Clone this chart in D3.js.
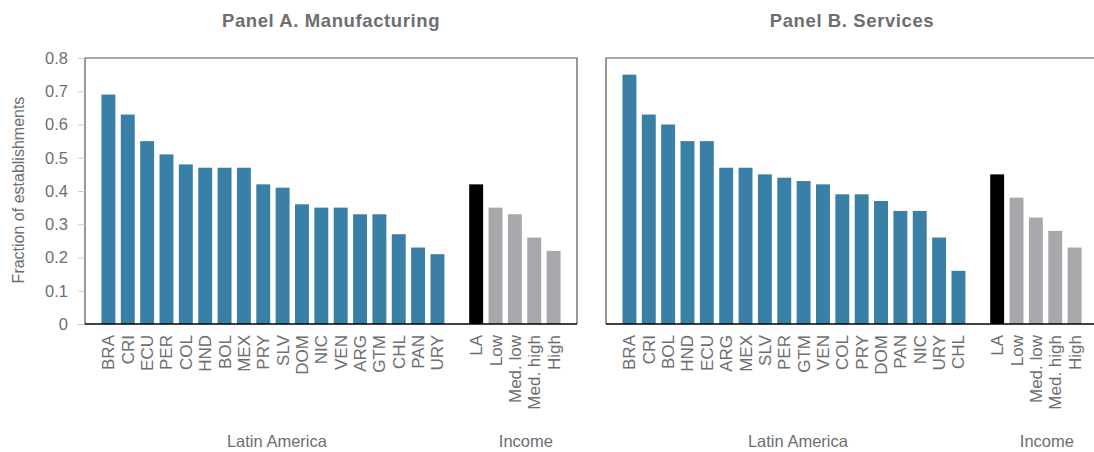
<!DOCTYPE html>
<html>
<head>
<meta charset="utf-8">
<script src="https://cdn.jsdelivr.net/npm/d3@7"></script>
<style>
  body { margin: 0; background: #fff; }
  text { font-family: "Liberation Sans", Arial, sans-serif; fill: #6d6e71; }
</style>
</head>
<body>
<svg id="chart" width="1094" height="452"></svg>
<script>
// data
const mfgCountries = ['BRA', 'CRI', 'ECU', 'PER', 'COL', 'HND', 'BOL', 'MEX', 'PRY', 'SLV', 'DOM', 'NIC', 'VEN', 'ARG', 'GTM', 'CHL', 'PAN', 'URY'];
const mfgValues = [0.69, 0.63, 0.55, 0.51, 0.48, 0.47, 0.47, 0.47, 0.42, 0.41, 0.36, 0.35, 0.35, 0.33, 0.33, 0.27, 0.23, 0.21];
const svcCountries = ['BRA', 'CRI', 'BOL', 'HND', 'ECU', 'ARG', 'MEX', 'SLV', 'PER', 'GTM', 'VEN', 'COL', 'PRY', 'DOM', 'PAN', 'NIC', 'URY', 'CHL'];
const svcValues = [0.75, 0.63, 0.60, 0.55, 0.55, 0.47, 0.47, 0.45, 0.44, 0.43, 0.42, 0.39, 0.39, 0.37, 0.34, 0.34, 0.26, 0.16];
const incomeGroups = ['LA', 'Low', 'Med. low', 'Med. high', 'High'];
const mfgIncome = [0.42, 0.35, 0.33, 0.26, 0.22];
const svcIncome = [0.45, 0.38, 0.32, 0.28, 0.23];
const yTicks = [0, 0.1, 0.2, 0.3, 0.4, 0.5, 0.6, 0.7, 0.8];

const BLUE = '#3a7fa5', GREY = '#a7a8ab', TXT = '#6d6e71';
const svg = d3.select('#chart');
const plotTop = 58, plotBottom = 324, panelW = 492;

const y = d3.scaleLinear().domain([0, 0.8]).range([plotBottom, plotTop]);

const drawPanel = (x0, title, countries, values, income, showY) => {
  const g = svg.append('g');
  const keys = countries.concat(['_gap'], incomeGroups);
  const x = d3.scaleBand().domain(keys).range([x0, x0 + panelW]).paddingInner(0.28).paddingOuter(0.85);
  let rows = countries.map((c, i) => ({ k: c, v: values[i], col: BLUE }));
  rows = rows.concat(incomeGroups.map((c, i) => ({ k: c, v: income[i], col: i === 0 ? '#000' : GREY })));

  g.selectAll('.bar').data(rows).enter().append('rect')
    .attr('x', d => x(d.k)).attr('width', x.bandwidth())
    .attr('y', d => y(d.v)).attr('height', d => y(0) - y(d.v))
    .attr('fill', d => d.col);

  // frame
  g.append('path').attr('d', `M${x0},${plotBottom}V${plotTop}H${x0 + panelW}V${plotBottom}`)
    .attr('fill', 'none').attr('stroke', '#555').attr('stroke-width', 1.2);
  g.append('line').attr('x1', x0).attr('x2', x0 + panelW).attr('y1', plotBottom).attr('y2', plotBottom)
    .attr('stroke', '#000').attr('stroke-width', 1.5);

  g.append('text').text(title)
    .attr('x', x0 + panelW / 2).attr('y', 27)
    .attr('text-anchor', 'middle').attr('font-size', 18.5).attr('font-weight', 'bold')
    .attr('letter-spacing', 0.6);

  // rotated category labels
  g.selectAll('.lab').data(rows).enter().append('text')
    .text(d => d.k)
    .attr('transform', d => `translate(${x(d.k) + x.bandwidth() / 2 + 6},${plotBottom + 11}) rotate(-90)`)
    .attr('text-anchor', 'end').attr('font-size', 17);

  const laMid = (x(countries[0]) + x(countries[countries.length - 1]) + x.bandwidth()) / 2;
  g.append('text').text('Latin America').attr('x', laMid + 4).attr('y', 447)
    .attr('text-anchor', 'middle').attr('font-size', 16.5);
  const incMid = (x(incomeGroups[0]) + x(incomeGroups[4]) + x.bandwidth()) / 2;
  g.append('text').text('Income').attr('x', incMid + 11).attr('y', 447)
    .attr('text-anchor', 'middle').attr('font-size', 16.5);

  if (showY) {
    const ax = g.append('g').attr('transform', `translate(${x0},0)`)
      .call(d3.axisLeft(y).tickValues(yTicks).tickFormat(d => d === 0 ? '0' : d3.format('.1f')(d)).tickSize(7).tickPadding(10));
    ax.select('.domain').remove();
    ax.selectAll('.tick line').attr('stroke', '#c8c8c8');
    ax.selectAll('.tick text').attr('font-size', 16.5).attr('fill', TXT)
      .style('font-family', '"Liberation Sans", Arial, sans-serif');
    g.append('text').text('Fraction of establishments')
      .attr('transform', `translate(24,${(plotTop + plotBottom) / 2 - 1}) rotate(-90)`)
      .attr('text-anchor', 'middle').attr('font-size', 16);
  }
};

drawPanel(85, 'Panel A. Manufacturing', mfgCountries, mfgValues, mfgIncome, true);
drawPanel(606, 'Panel B. Services', svcCountries, svcValues, svcIncome, false);
</script>
</body>
</html>
